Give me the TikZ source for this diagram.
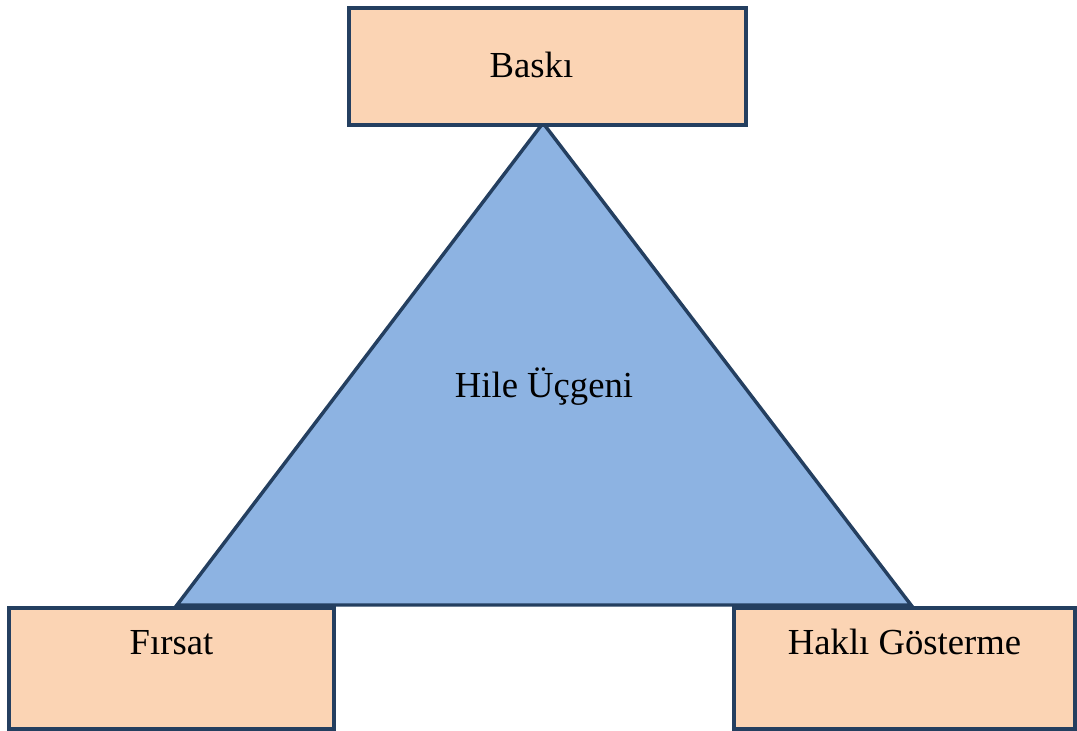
\documentclass[tikz,border=0pt]{standalone}
\usepackage{fontspec}
\setmainfont{Liberation Serif}
\usetikzlibrary{positioning}
\definecolor{boxfill}{HTML}{FBD4B4}
\definecolor{trifill}{HTML}{8DB3E2}
\definecolor{edgeblue}{HTML}{243F60}

\begin{document}
\begin{tikzpicture}[
      x=0.75pt,y=-0.75pt,
      corner/.style={draw=edgeblue, fill=boxfill, line width=2.8pt,
        inner sep=0pt, anchor=north, font=\fontsize{27.5}{32}\selectfont},
      fraud/.style={draw=edgeblue, fill=trifill, line width=2.6pt},
      ]
      \useasboundingbox (0,0) rectangle (1077,731);

      % triangle corners
      \coordinate (top)   at (543,123);
      \coordinate (left)  at (177,605);
      \coordinate (right) at (911,605);
      \filldraw[fraud] (top) -- (left) -- (right) -- cycle;
      \node (hile) at (544,387) {\fontsize{27.5}{32}\selectfont Hile Üçgeni};

      % the three boxes
      \node[corner, minimum width=297.75pt, text height=52.5pt, text depth=35.25pt]
        (baski) at (547.5,6) {Baskı\kern24pt};
      \node[corner, minimum width=243.75pt, text height=35.25pt, text depth=55.5pt]
        (firsat) at (171.5,606) {Fırsat};
      \node[corner, minimum width=255.75pt, text height=35.25pt, text depth=55.5pt]
        (hakli) at (904.5,606) {Haklı Gösterme};
    \end{tikzpicture}
\end{document}
